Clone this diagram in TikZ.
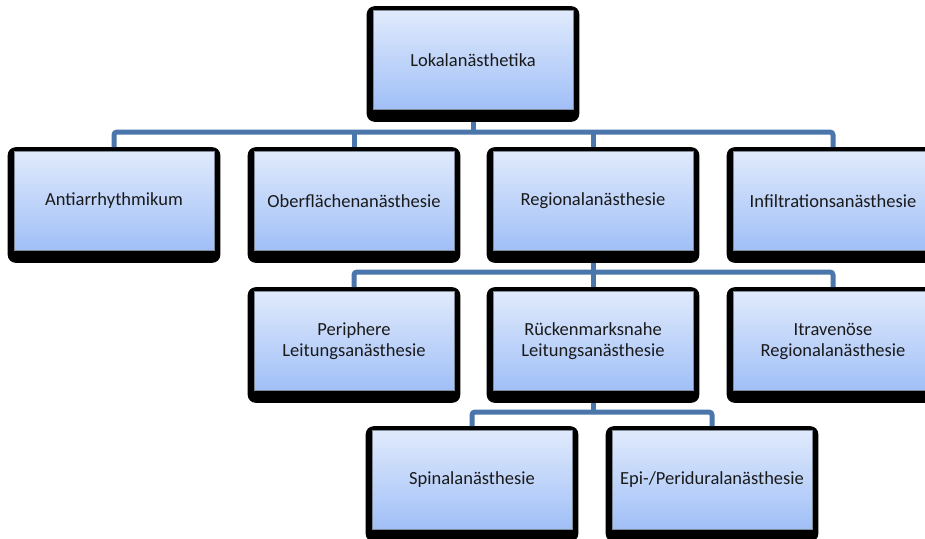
\documentclass[tikz,border=0pt]{standalone}
\usepackage{fontspec}
\setmainfont{Carlito}
\usetikzlibrary{calc,backgrounds}
\definecolor{conncol}{HTML}{4A76AC}
\definecolor{topc}{HTML}{E0EAFC}
\definecolor{botc}{HTML}{A0BFF7}
\definecolor{edgec}{HTML}{7F8A99}
\definecolor{textc}{HTML}{1A1A1A}
\begin{document}
\begin{tikzpicture}[x=1pt,y=1pt,
  box/.style={draw=edgec, line width=0.6pt, top color=topc, bottom color=botc,
    minimum width=200pt, minimum height=99pt, inner sep=0pt, align=center,
    text=textc, font=\fontsize{18.5}{21}\selectfont},
  frame/.style={fill=black, rounded corners=8pt},
  conn/.style={draw=conncol, line width=5pt, rounded corners=3pt}]
\useasboundingbox (0,0) rectangle (925,-538);
\node[box] (top) at (473,-60) {Lokalanästhetika};
\node[box] (a) at (114,-201) {Antiarrhythmikum};
\node[box] (b) at (354,-201) {Oberflächenanästhesie};
\node[box] (c) at (593,-201) {Regionalanästhesie};
\node[box] (d) at (833,-201) {Infiltrationsanästhesie};
\node[box] (e) at (354,-341) {Periphere\\Leitungsanästhesie};
\node[box] (f) at (593,-341) {Rückenmarksnahe\\Leitungsanästhesie};
\node[box] (g) at (833,-341) {Itravenöse\\Regionalanästhesie};
\node[box] (h) at (472,-480) {Spinalanästhesie};
\node[box] (i) at (712,-480) {Epi-/Periduralanästhesie};
\begin{scope}[on background layer]
\foreach \n in {top,a,b,c,d,e,f,g,h,i}
  \path[frame] ($(\n.north west)+(-6,4)$) rectangle ($(\n.south east)+(6,-12)$);
\end{scope}
\coordinate (bus1) at (0,-132);
\coordinate (bus2) at (0,-272);
\coordinate (bus3) at (0,-412);
% level 1
\draw[conn] ($(top.south)+(0,-12)$) -- (top.south |- bus1);
\draw[conn] ($(a.north)+(0,4)$) |- (bus1 -| d.north) -- ($(d.north)+(0,4)$);
\draw[conn] ($(b.north)+(0,4)$) -- (b.north |- bus1);
\draw[conn] ($(c.north)+(0,4)$) -- (c.north |- bus1);
% level 2
\draw[conn] ($(c.south)+(0,-12)$) -- (c.south |- bus2);
\draw[conn] ($(e.north)+(0,4)$) |- (bus2 -| g.north) -- ($(g.north)+(0,4)$);
\draw[conn] ($(f.north)+(0,4)$) -- (f.north |- bus2);
% level 3
\draw[conn] ($(f.south)+(0,-12)$) -- (f.south |- bus3);
\draw[conn] ($(h.north)+(0,4)$) |- (bus3 -| i.north) -- ($(i.north)+(0,4)$);
\end{tikzpicture}
\end{document}
